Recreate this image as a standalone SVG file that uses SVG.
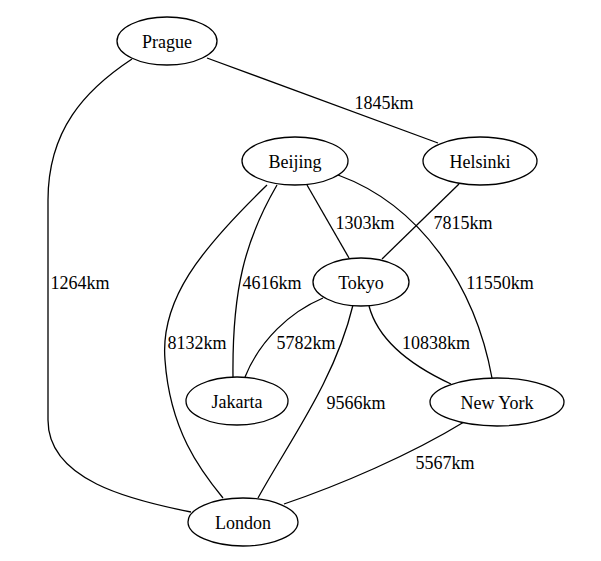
<svg xmlns="http://www.w3.org/2000/svg" width="601" height="561" viewBox="0 0 601 561">
<style>
.n ellipse{fill:#fff;stroke:#000;stroke-width:1.3}
text{font-family:"Liberation Serif","Times New Roman",serif;font-size:18px;fill:#000;text-anchor:middle}
.e path{fill:none;stroke:#000;stroke-width:1.3}
</style>
<rect width="601" height="561" fill="#fff"/>
<g id="edges" class="e">
<path d="M132,59 C85,90 48,130 48,200 L48,420 C48,480 130,500 191,512"/>
<path d="M207,58 L438,143"/>
<path d="M307,185 L349,258"/>
<path d="M459,184 L382,259"/>
<path d="M338,175 C420,205 475,285 492,378"/>
<path d="M277,185 C245,240 232,290 233,377"/>
<path d="M267,185 C200,250 160,300 165,360 C170,430 200,470 223,498"/>
<path d="M323,298 C290,312 260,340 245,377"/>
<path d="M353,305 C335,380 290,440 258,498"/>
<path d="M369,306 C378,340 410,365 451,384"/>
<path d="M464,422 C410,455 340,485 284,504"/>
</g>
<g id="edge-labels">
<text x="80" y="289">1264km</text>
<text x="384" y="109">1845km</text>
<text x="365" y="229">1303km</text>
<text x="463" y="229">7815km</text>
<text x="500" y="289">11550km</text>
<text x="272" y="289">4616km</text>
<text x="197" y="349">8132km</text>
<text x="306" y="349">5782km</text>
<text x="356" y="409">9566km</text>
<text x="436" y="349">10838km</text>
<text x="445" y="469">5567km</text>
</g>
<g id="prague" class="n"><ellipse cx="167" cy="41" rx="50" ry="24"/><text x="167" y="48">Prague</text></g>
<g id="beijing" class="n"><ellipse cx="295" cy="161" rx="53" ry="24"/><text x="295" y="168">Beijing</text></g>
<g id="helsinki" class="n"><ellipse cx="480" cy="161" rx="57" ry="24"/><text x="480" y="168">Helsinki</text></g>
<g id="tokyo" class="n"><ellipse cx="361" cy="282" rx="48" ry="24"/><text x="361" y="289">Tokyo</text></g>
<g id="jakarta" class="n"><ellipse cx="237" cy="401" rx="51" ry="24"/><text x="237" y="408">Jakarta</text></g>
<g id="newyork" class="n"><ellipse cx="497" cy="402" rx="67" ry="24"/><text x="497" y="409">New York</text></g>
<g id="london" class="n"><ellipse cx="243" cy="522" rx="55" ry="24"/><text x="243" y="529">London</text></g>
</svg>
